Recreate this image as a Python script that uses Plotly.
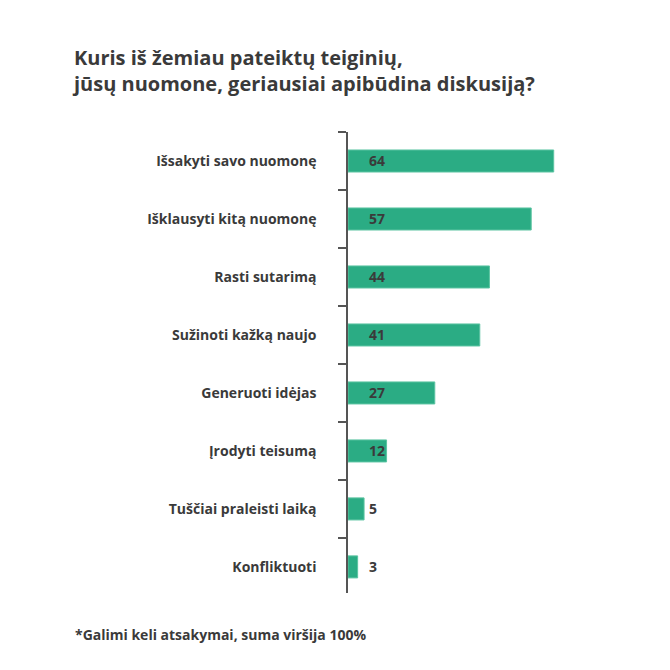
import plotly.graph_objects as go

categories = [
    "Išsakyti savo nuomonę",
    "Išklausyti kitą nuomonę",
    "Rasti sutarimą",
    "Sužinoti kažką naujo",
    "Generuoti idėjas",
    "Įrodyti teisumą",
    "Tuščiai praleisti laiką",
    "Konfliktuoti",
]
values = [64, 57, 44, 41, 27, 12, 5, 3]

title_text = "Kuris iš žemiau pateiktų teiginių,<br>jūsų nuomone, geriausiai apibūdina diskusiją?"
footnote = "*Galimi keli atsakymai, suma viršija 100%"

FONT = "Open Sans"
DARK = "#3a3a3a"
GREEN = "#2bac84"

W = 670
ML, MR, MT, MB = 348, 97, 132, 77

fig = go.Figure()
fig.add_trace(go.Bar(
    x=values, y=categories, orientation="h",
    marker=dict(color=GREEN, line=dict(color="#5cc4a2", width=1)),
    width=0.38, hoverinfo="x+y",
))

for c, v in zip(categories, values):
    fig.add_annotation(x=0, y=c, xref="x", yref="y", text=str(v),
                       showarrow=False, xanchor="left", xshift=19,
                       font=dict(family=FONT, size=14, color=DARK, weight="bold"))

fig.add_annotation(x=(73 - ML) / (W - ML - MR), y=(W - MB - 634) / (W - MT - MB),
                   xref="paper", yref="paper", text=footnote,
                   showarrow=False, xanchor="left", yanchor="middle",
                   font=dict(family=FONT, size=14, color=DARK, weight="bold"))

fig.update_layout(
    width=W, height=W,
    margin=dict(l=ML, r=MR, t=MT, b=MB),
    plot_bgcolor="white", paper_bgcolor="white",
    showlegend=False,
    title=dict(text=title_text, x=74 / W, xref="container", xanchor="left",
               y=1 - 65 / W, yref="container", yanchor="middle",
               font=dict(family=FONT, size=20, color=DARK, weight="bold")),
    xaxis=dict(range=[0, 70], visible=False),
    yaxis=dict(
        categoryorder="array", categoryarray=categories,
        range=[7.45, -0.5],
        showline=True, linecolor="#555", linewidth=1.5,
        ticks="outside", tickson="boundaries", ticklen=8, tickcolor="#555", tickwidth=1.5,
        ticklabelstandoff=27,
        showgrid=False, zeroline=False,
        tickfont=dict(family=FONT, size=14, color=DARK, weight="bold"),
    ),
)

fig.write_html("out.html", config={"displayModeBar": False},
               post_script="document.body.style.margin='0';")
